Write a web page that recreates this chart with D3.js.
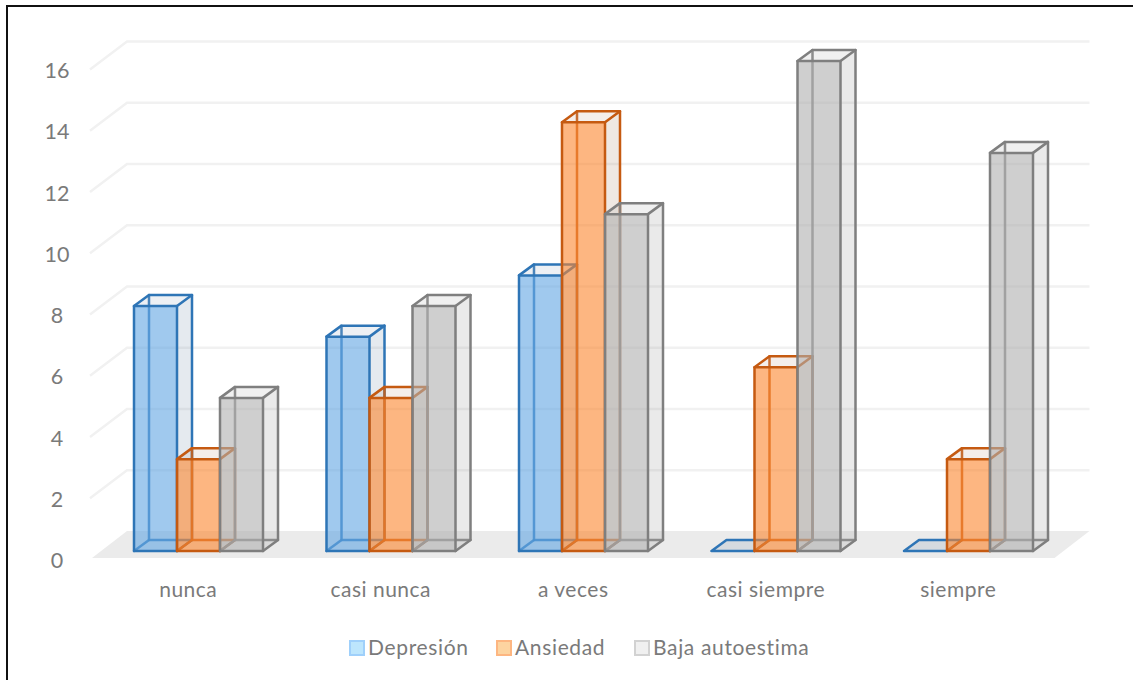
<!DOCTYPE html>
<html lang="es">
<head>
<meta charset="utf-8">
<script src="https://cdn.jsdelivr.net/npm/d3@7"></script>
<style>
  html, body { margin: 0; padding: 0; background: #fff; }
  svg { display: block; }
  text { font-family: Lato, "Open Sans", sans-serif; fill: #7a7a7a; }
</style>
</head>
<body>
<svg id="chart" width="1133" height="680"></svg>
<script>
const categories = ["nunca", "casi nunca", "a veces", "casi siempre", "siempre"];
const seriesNames = ["Depresión", "Ansiedad", "Baja autoestima"];
const depresion = [8, 7, 9, 0, 0];
const ansiedad = [3, 5, 14, 6, 3];
const bajaAutoestima = [5, 8, 11, 16, 13];
const seriesValues = [depresion, ansiedad, bajaAutoestima];
const yTicks = [0, 2, 4, 6, 8, 10, 12, 14, 16];

const palette = [
  { stroke: "#2e75b6", front: "#61a5e3", side: "#7d96af", top: "#7d96af", swatch: "#bde6fd", swatchEdge: "#9fd0fb" },
  { stroke: "#c55a11", front: "#fc852d", side: "#b08a6e", top: "#b08a6e", swatch: "#fdd4a0", swatchEdge: "#fdb681" },
  { stroke: "#7f7f7f", front: "#afafaf", side: "#969696", top: "#969696", swatch: "#f0f0f0", swatchEdge: "#d2d2d2" }
];

const svg = d3.select("#chart");

// Oblique projection: the floor runs from the front edge to the back wall,
// and the bars stand in the middle of that depth.
const floorFrontY = 558, floorDepth = { x: 35, y: -27 };
const barFrontShift = { x: 0, y: -7 };
const barDepth = { x: 15, y: -11 };

const y = d3.scaleLinear().domain([0, 16]).range([floorFrontY, floorFrontY - 490]);
const x = d3.scaleBand().domain(categories).range([92, 1054.5]);
const xBar = d3.scaleBand().domain(seriesNames).range([42, 171]);

// Outer frame: top and left rules only
svg.append("path")
  .attr("d", "M7,680V6H1133")
  .attr("fill", "none").attr("stroke", "#111").attr("stroke-width", 2);

// Floor
const floorLeft = x.range()[0], floorRight = x.range()[1];
svg.append("path")
  .attr("d", d3.line()([
    [floorLeft, floorFrontY],
    [floorRight, floorFrontY],
    [floorRight + floorDepth.x, floorFrontY + floorDepth.y],
    [floorLeft + floorDepth.x, floorFrontY + floorDepth.y]
  ]) + "Z")
  .attr("fill", "#ebebeb");

// Gridlines along the side wall and the back wall
svg.append("g").selectAll("path")
  .data(yTicks.filter(d => d > 0))
  .join("path")
  .attr("d", d => d3.line()([
    [floorLeft - 2, y(d) + 1.5],
    [floorLeft + floorDepth.x, y(d) + floorDepth.y + 0.5],
    [floorRight + floorDepth.x, y(d) + floorDepth.y + 0.5]
  ]))
  .attr("fill", "none").attr("stroke", "#f1f1f1").attr("stroke-width", 2.4);

// Value axis labels
svg.append("g").selectAll("text")
  .data(yTicks)
  .join("text")
  .attr("x", 57).attr("y", d => y(d) + 2.5)
  .attr("dy", "0.35em")
  .attr("text-anchor", "middle")
  .attr("font-size", 21.5)
  .text(d => d);

// Category labels
svg.append("g").selectAll("text")
  .data(categories)
  .join("text")
  .attr("x", d => x(d) + x.bandwidth() / 2)
  .attr("y", 597)
  .attr("text-anchor", "middle")
  .attr("font-size", 21)
  .attr("letter-spacing", 0.5)
  .text(d => d);

// One translucent box per value; hidden edges show through the front face.
function drawBox(g, cat, name, value, colour) {
  const x0 = x(cat) + xBar(name) + barFrontShift.x;
  const x1 = x0 + xBar.bandwidth();
  const yB = y(0) + barFrontShift.y;
  const yT = y(value) + barFrontShift.y;
  const dx = barDepth.x, dy = barDepth.y;
  const line = d3.line();
  const face = (pts, fill, opacity) => g.append("path")
    .attr("d", line(pts) + "Z")
    .attr("fill", fill).attr("fill-opacity", opacity).attr("stroke", "none");
  const edge = (pts, opacity) => g.append("path")
    .attr("d", line(pts))
    .attr("fill", "none").attr("stroke", colour.stroke)
    .attr("stroke-width", 2.5).attr("stroke-opacity", opacity)
    .attr("stroke-linejoin", "round").attr("stroke-linecap", "round");

  if (value === 0) {
    face([[x0, yB], [x1, yB], [x1 + dx, yB + dy], [x0 + dx, yB + dy]], colour.top, 0.2);
    edge([[x0, yB], [x1, yB], [x1 + dx, yB + dy], [x0 + dx, yB + dy], [x0, yB]], 1);
    return;
  }
  // hidden back and floor edges
  edge([[x0 + dx, yT + dy], [x0 + dx, yB + dy], [x1 + dx, yB + dy]], 0.9);
  edge([[x0, yB], [x0 + dx, yB + dy]], 0.9);
  // side and top faces
  face([[x1, yB], [x1 + dx, yB + dy], [x1 + dx, yT + dy], [x1, yT]], colour.side, 0.2);
  face([[x0, yT], [x1, yT], [x1 + dx, yT + dy], [x0 + dx, yT + dy]], colour.top, 0.14);
  // front face
  face([[x0, yB], [x1, yB], [x1, yT], [x0, yT]], colour.front, 0.6);
  // visible edges
  edge([[x1, yB], [x1 + dx, yB + dy], [x1 + dx, yT + dy], [x0 + dx, yT + dy], [x0, yT]], 1);
  edge([[x1, yT], [x1 + dx, yT + dy]], 1);
  edge([[x0, yB], [x1, yB], [x1, yT], [x0, yT], [x0, yB]], 1);
}

const bars = svg.append("g");
categories.forEach((cat, i) => {
  seriesNames.forEach((name, s) => {
    drawBox(bars, cat, name, seriesValues[s][i], palette[s]);
  });
});

// Legend
const legendX = d3.scaleOrdinal().domain(seriesNames).range([350, 497, 635]);
const legend = svg.append("g").selectAll("g")
  .data(seriesNames)
  .join("g")
  .attr("transform", d => `translate(${legendX(d)},641)`);
legend.append("rect")
  .attr("width", 14).attr("height", 14)
  .attr("fill", (d, i) => palette[i].swatch)
  .attr("stroke", (d, i) => palette[i].swatchEdge)
  .attr("stroke-width", 2);
legend.append("text")
  .attr("x", 18).attr("y", 14)
  .attr("font-size", 21)
  .attr("letter-spacing", 0.65)
  .text(d => d);
</script>
</body>
</html>
